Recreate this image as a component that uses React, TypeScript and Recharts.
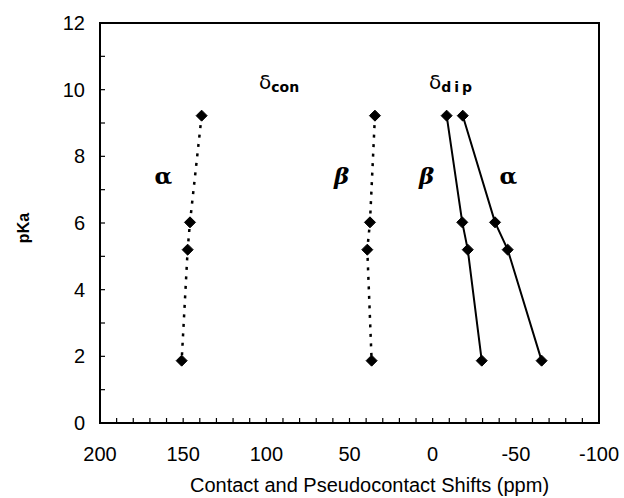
// @ts-nocheck
import React from 'react';
import { ScatterChart, Scatter, XAxis, YAxis } from 'recharts';

// pKa of the four titration points (top to bottom)
const pKaValues = [9.22, 6.02, 5.2, 1.87];

// shifts in ppm, same order as pKaValues
const alphaCon = [138.9, 145.9, 147.3, 150.9];
const betaCon = [34.7, 37.7, 39.3, 36.7];
const betaDip = [-8.4, -17.8, -21.1, -29.5];
const alphaDip = [-18.1, -37.5, -45.1, -65.5];

const xLabels = [200, 150, 100, 50, 0, -50, -100];
const xTicks = [200, 190, 180, 170, 160, 150, 140, 130, 120, 110, 100, 90, 80, 70, 60, 50, 40, 30, 20, 10, 0,
    -10, -20, -30, -40, -50, -60, -70, -80, -90, -100];
const yLabels = [0, 2, 4, 6, 8, 10, 12];
const yTicks = [0, 1, 2, 3, 4, 5, 6, 7, 8, 9, 10, 11, 12];

// text annotations in data coordinates
const notes = [
    { x: 161.9, y: 7.38, text: 'α', kind: 'greek' },
    { x: 54.7, y: 7.38, text: 'β', kind: 'greek' },
    { x: 3.6, y: 7.38, text: 'β', kind: 'greek' },
    { x: -45.5, y: 7.38, text: 'α', kind: 'greek' },
    { x: 104.4, y: 10.02, text: 'con', kind: 'delta' },
    { x: 2.2, y: 10.02, text: 'dip', kind: 'delta' },
];

const toPoints = (xs: number[]) => xs.map((x, i) => ({ x, y: pKaValues[i] }));

const SANS = '"Liberation Sans", Arial, sans-serif';

// plot box (matches the chart margins and axis sizes below)
const PLOT = { left: 100, top: 23, width: 499, height: 400 };

const Diamond = ({ cx, cy }) => (
    <polygon
        points={`${cx},${cy - 5.5} ${cx + 5.5},${cy} ${cx},${cy + 5.5} ${cx - 5.5},${cy}`}
        fill="#000"
        stroke="#000"
        strokeWidth={1}
        strokeLinejoin="round"
    />
);

const NoteShape = ({ cx, cy, payload }) => {
    if (payload.kind === 'greek') {
        return (
            <text x={cx} y={cy + 7} textAnchor="middle" fontFamily='"DejaVu Serif", serif'
                fontSize={23} fontWeight="bold" fontStyle={payload.text === 'β' ? 'italic' : 'normal'} fill="#000">
                {payload.text}
            </text>
        );
    }
    return (
        <text x={cx} y={cy} textAnchor="start" fill="#000">
            <tspan fontFamily='"DejaVu Sans", sans-serif' fontSize={20}>δ</tspan>
            <tspan fontFamily='"DejaVu Sans", sans-serif' fontSize={14} fontWeight="bold" dy={3}
                letterSpacing={payload.text === 'dip' ? 3 : 0}>{payload.text}</tspan>
        </text>
    );
};

const XTick = ({ x, y, payload }) => {
    const v = payload.value;
    return (
        <g>
            {v !== 200 && v !== -100 && <line x1={x} x2={x} y1={y} y2={y - 5} stroke="#000" strokeWidth={1.2} />}
            {xLabels.includes(v) && (
                <text x={x} y={y + 38} textAnchor="middle" fontFamily={SANS} fontSize={20} fill="#000">{v}</text>
            )}
        </g>
    );
};

const YTick = ({ x, y, payload }) => {
    const v = payload.value;
    return (
        <g>
            {v !== 0 && v !== 12 && <line x1={x} x2={x + 5} y1={y} y2={y} stroke="#000" strokeWidth={1.2} />}
            {yLabels.includes(v) && (
                <text x={x - 15} y={y + 7} textAnchor="end" fontFamily={SANS} fontSize={20} fill="#000">{v}</text>
            )}
        </g>
    );
};

const dotted = { stroke: '#000', strokeWidth: 2.5, strokeDasharray: '3 6.5' };
const solid = { stroke: '#000', strokeWidth: 2 };

export default function App() {
    return (
        <div style={{ position: 'absolute', left: 0, top: 0, width: 624, height: 498, background: '#fff' }}>
            <ScatterChart width={624} height={498} margin={{ top: PLOT.top, right: 624 - PLOT.left - PLOT.width, bottom: 0, left: 0 }}>
                <XAxis
                    type="number"
                    dataKey="x"
                    domain={[-100, 200]}
                    reversed
                    ticks={xTicks}
                    interval={0}
                    axisLine={false}
                    tickLine={false}
                    tickSize={0}
                    tickMargin={0}
                    tick={XTick}
                    height={498 - PLOT.top - PLOT.height}
                    label={{
                        content: ({ viewBox }) => (
                            <text x={viewBox.x + viewBox.width / 2 + 20} y={viewBox.y + viewBox.height - 6}
                                textAnchor="middle" fontFamily={SANS} fontSize={20} fill="#000">
                                Contact and Pseudocontact Shifts (ppm)
                            </text>
                        ),
                    }}
                />
                <YAxis
                    type="number"
                    dataKey="y"
                    domain={[0, 12]}
                    ticks={yTicks}
                    interval={0}
                    axisLine={false}
                    tickLine={false}
                    tickSize={0}
                    tickMargin={0}
                    tick={YTick}
                    width={PLOT.left}
                    label={{
                        content: ({ viewBox }) => {
                            const cx = viewBox.x + 23;
                            const cy = viewBox.y + viewBox.height / 2 + 5;
                            return (
                                <text x={cx} y={cy} transform={`rotate(-90, ${cx}, ${cy})`} textAnchor="middle"
                                    dominantBaseline="central" fontFamily={SANS} fontSize={16} fontWeight="bold" fill="#000">
                                    pKa
                                </text>
                            );
                        },
                    }}
                />
                <Scatter data={toPoints(alphaCon)} line={dotted} shape={Diamond} isAnimationActive={false} />
                <Scatter data={toPoints(betaCon)} line={dotted} shape={Diamond} isAnimationActive={false} />
                <Scatter data={toPoints(betaDip)} line={solid} shape={Diamond} isAnimationActive={false} />
                <Scatter data={toPoints(alphaDip)} line={solid} shape={Diamond} isAnimationActive={false} />
                <Scatter data={notes} shape={NoteShape} isAnimationActive={false} />
            </ScatterChart>
            {/* box frame drawn over the plot area */}
            <div
                style={{
                    position: 'absolute',
                    left: PLOT.left - 1,
                    top: PLOT.top - 1,
                    width: PLOT.width + 2,
                    height: PLOT.height + 2,
                    border: '2px solid #000',
                    boxSizing: 'border-box',
                    pointerEvents: 'none',
                }}
            />
        </div>
    );
}
